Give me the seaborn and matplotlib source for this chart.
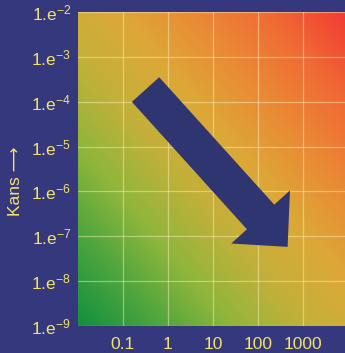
import numpy as np
import matplotlib
matplotlib.use("Agg")
import matplotlib.pyplot as plt
from matplotlib.patches import FancyArrowPatch
import seaborn as sns

# ── Data ─────────────────────────────────────────────
x_ticks = [0.1, 1, 10, 100, 1000]
x_labels = ["0.1", "1", "10", "100", "1000"]
y_ticks = [1e-2, 1e-3, 1e-4, 1e-5, 1e-6, 1e-7, 1e-8, 1e-9]
y_labels = [f"1.e$^{{-{k}}}$" for k in range(2, 10)]
x_range = (1e-2, 10 ** 3.94)
y_range = (1e-9, 1e-2)

# ── Style ────────────────────────────────────────────
NAVY = "#35387d"
ARROW = "#2f3570"
YELLOW = "#f2e36a"
grad_colors = ["#13903f", "#4aa43e", "#8fb63b", "#c2b03a", "#dca837",
               "#ea8a35", "#f06a34", "#f23c33"]

sns.set_style("white")
plt.rcParams.update({
    "font.family": ["Liberation Sans", "DejaVu Sans"],
    "mathtext.fontset": "custom",
    "mathtext.rm": "Liberation Sans",
    "mathtext.default": "regular",
})

cmap = sns.blend_palette(grad_colors, as_cmap=True)

fig = plt.figure(figsize=(3.45, 3.53), dpi=100, facecolor=NAVY)
ax = fig.add_axes([78 / 345, 27 / 353, 267 / 345, 314 / 353])
ax.set_xscale("log")
ax.set_yscale("log")
ax.set_xlim(*x_range)
ax.set_ylim(*y_range)

# diagonal background gradient
gx, gy = np.meshgrid(np.linspace(0, 1, 300), np.linspace(0, 1, 300))
ax.imshow((gx + gy) / 2, cmap=cmap, extent=(0, 1, 0, 1), origin="lower",
          transform=ax.transAxes, aspect="auto", zorder=0, vmin=0, vmax=1)

ax.set_xticks(x_ticks)
ax.set_xticklabels(x_labels)
ax.set_yticks(y_ticks)
ax.set_yticklabels(y_labels)
ax.minorticks_off()
ax.tick_params(axis="both", length=0, colors=YELLOW, labelsize=12.5)
ax.tick_params(axis="x", pad=8)
ax.tick_params(axis="y", pad=5)
ax.grid(True, color="#fff4c8", alpha=0.45, linewidth=0.9, zorder=1)
ax.set_axisbelow(False)
for s in ax.spines.values():
    s.set_visible(False)

# big arrow pointing down-right
arr = FancyArrowPatch((0.253, 0.753), (0.785, 0.252), transform=ax.transAxes,
                      arrowstyle="simple,head_length=29,head_width=57,tail_width=26.5",
                      mutation_scale=1, shrinkA=0, shrinkB=0,
                      color=ARROW, linewidth=0, zorder=3)
ax.add_patch(arr)

fig.text(15 / 345, 1 - 181 / 353, "Kans \u27f6", rotation=90, color=YELLOW,
         fontsize=12.5, ha="center", va="center")

fig.savefig("out.png", dpi=100, facecolor=NAVY)
